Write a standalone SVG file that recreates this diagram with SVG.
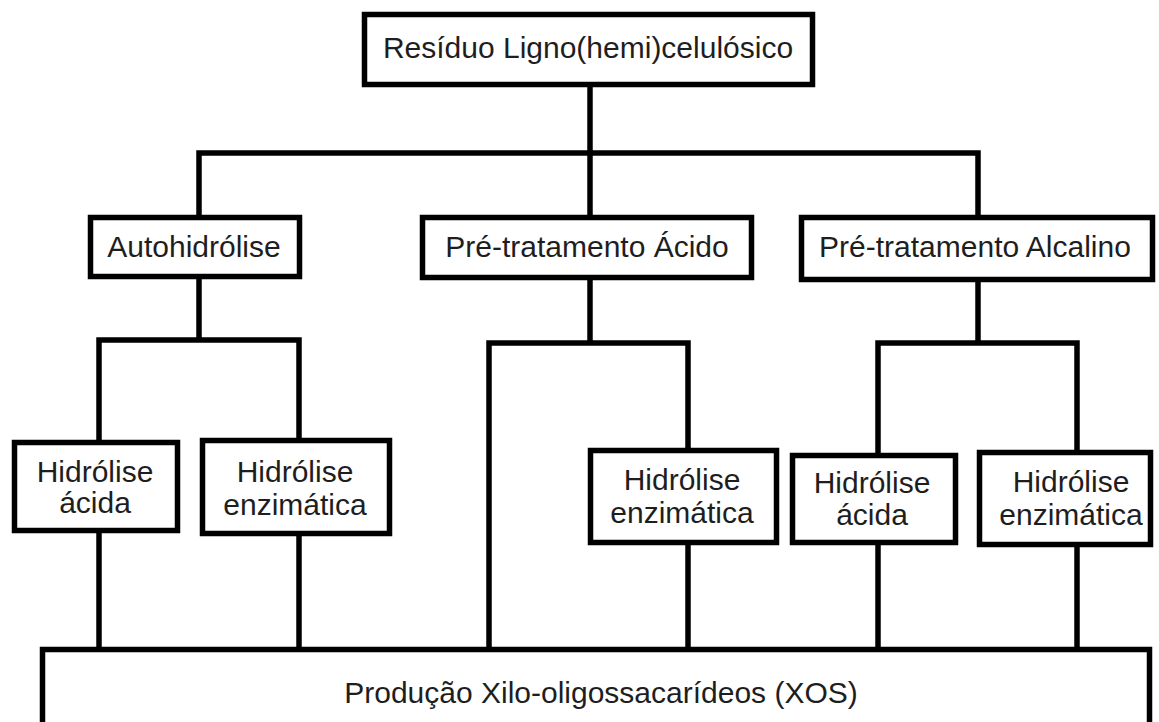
<svg xmlns="http://www.w3.org/2000/svg" width="1159" height="722" viewBox="0 0 1159 722">
<style>
.box{fill:#ffffff;stroke:#000000;stroke-width:5.5}
.t{font-family:"Liberation Sans",Arial,sans-serif;font-size:30px;fill:#1e1e1e;text-anchor:middle}
.c{fill:none;stroke:#000000;stroke-width:5.5;stroke-linejoin:miter;stroke-linecap:butt}
</style>
<rect width="1159" height="722" fill="#ffffff"/>
<g id="connectors">
<path class="c" d="M590 87 V153"/>
<path class="c" d="M199 215 V153 H978 V215"/>
<path class="c" d="M590 153 V215"/>
<path class="c" d="M199 279 V340"/>
<path class="c" d="M99 440 V340 H299 V438"/>
<path class="c" d="M590 280 V343"/>
<path class="c" d="M489 648 V343 H688 V448"/>
<path class="c" d="M978 282 V343"/>
<path class="c" d="M878 453 V343 H1077 V450"/>
<path class="c" d="M99 533 V648"/>
<path class="c" d="M299 536 V648"/>
<path class="c" d="M688 545 V648"/>
<path class="c" d="M878 545 V648"/>
<path class="c" d="M1077 547 V648"/>
</g>
<g id="n-residuo">
<rect class="box" x="364.5" y="14.5" width="448" height="70"/>
<text class="t" x="588" y="58">Resíduo Ligno(hemi)celulósico</text>
</g>
<g id="n-autohidrolise">
<rect class="box" x="90.5" y="217.5" width="209" height="59"/>
<text class="t" x="194" y="257">Autohidrólise</text>
</g>
<g id="n-acido">
<rect class="box" x="422.5" y="217.5" width="329" height="60"/>
<text class="t" x="587" y="257">Pré-tratamento Ácido</text>
</g>
<g id="n-alcalino">
<rect class="box" x="801.5" y="217.5" width="351" height="62"/>
<text class="t" x="975" y="257">Pré-tratamento Alcalino</text>
</g>
<g id="n-hac1">
<rect class="box" x="14.5" y="442.5" width="163" height="88"/>
<text class="t" x="95" y="482">Hidrólise</text>
<text class="t" x="95" y="513">ácida</text>
</g>
<g id="n-henz1">
<rect class="box" x="202.5" y="440.5" width="187" height="93"/>
<text class="t" x="295" y="482">Hidrólise</text>
<text class="t" x="295" y="515">enzimática</text>
</g>
<g id="n-henz2">
<rect class="box" x="590.5" y="450.5" width="186" height="92"/>
<text class="t" x="682" y="490">Hidrólise</text>
<text class="t" x="682" y="523">enzimática</text>
</g>
<g id="n-hac2">
<rect class="box" x="792.5" y="455.5" width="163" height="87"/>
<text class="t" x="872" y="493">Hidrólise</text>
<text class="t" x="872" y="525">ácida</text>
</g>
<g id="n-henz3">
<rect class="box" x="979.5" y="452.5" width="171" height="92"/>
<text class="t" x="1071" y="492">Hidrólise</text>
<text class="t" x="1071" y="525">enzimática</text>
</g>
<g id="n-xos">
<rect class="box" x="42.5" y="649.5" width="1107" height="100"/>
<text class="t" x="601" y="703">Produção Xilo-oligossacarídeos (XOS)</text>
</g>
</svg>
